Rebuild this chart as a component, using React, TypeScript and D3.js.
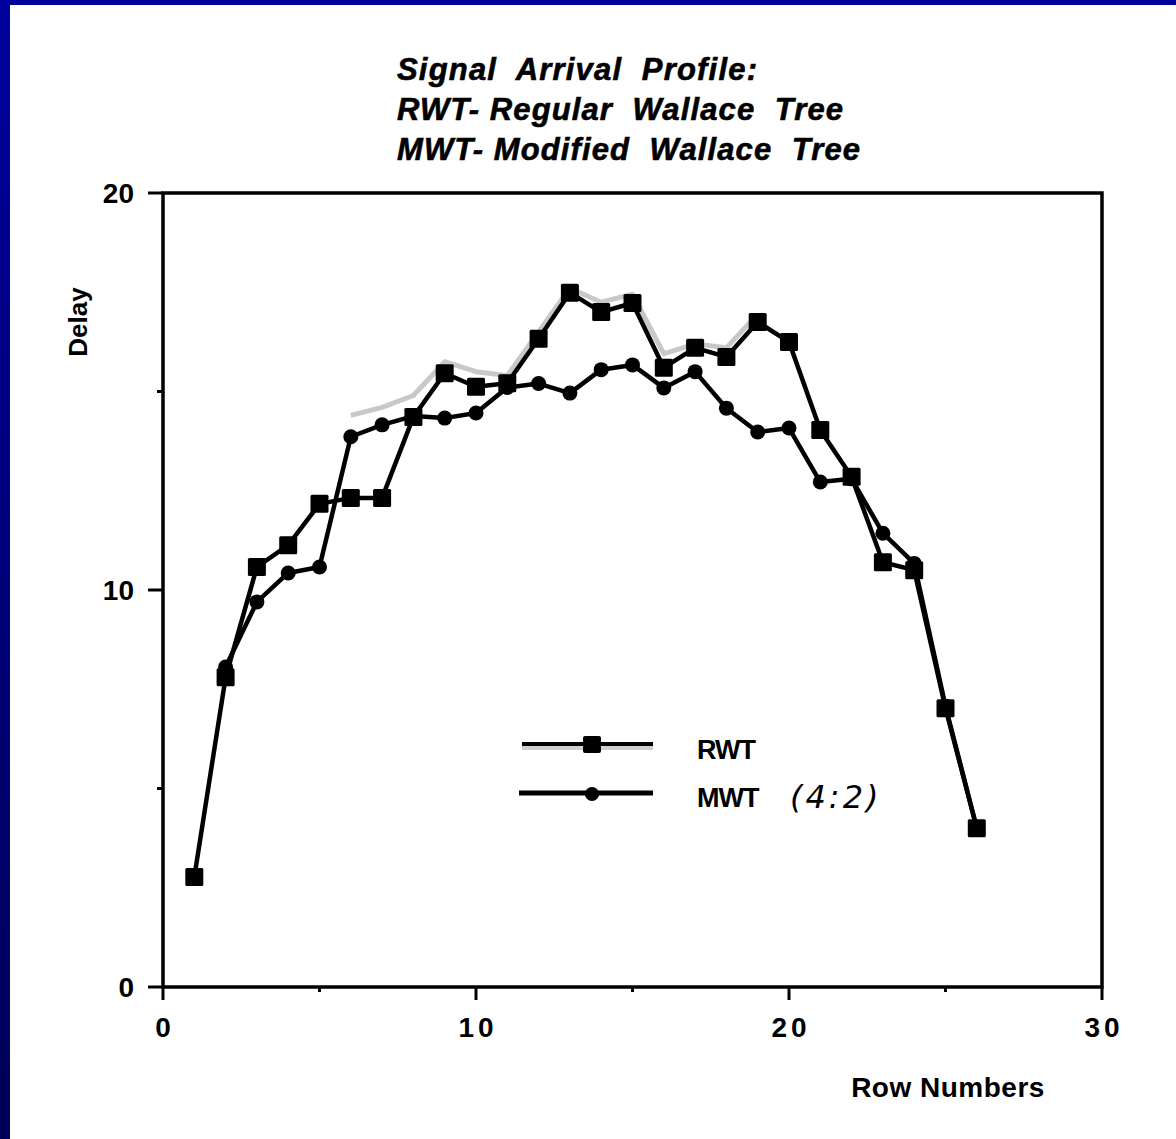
import React, { useEffect, useRef } from 'react';
import * as d3 from 'd3';

// row numbers and delays
const rwtRows = [1, 2, 3, 4, 5, 6, 7, 8, 9, 10, 11, 12, 13, 14, 15, 16, 17, 18, 19, 20, 21, 22, 23, 24, 25, 26];
const rwtDelay = [2.77, 7.8, 10.58, 11.13, 12.17, 12.32, 12.32, 14.36, 15.46, 15.12, 15.21, 16.33, 17.49, 17.0, 17.23, 15.6, 16.1, 15.87, 16.75, 16.25, 14.03, 12.85, 10.7, 10.5, 7.02, 4.0];

const mwtRows = [2, 3, 4, 5, 6, 7, 8, 9, 10, 11, 12, 13, 14, 15, 16, 17, 18, 19, 20, 21, 22, 23, 24, 25, 26];
const mwtDelay = [8.06, 9.7, 10.43, 10.58, 13.86, 14.16, 14.38, 14.33, 14.46, 15.1, 15.2, 14.96, 15.55, 15.67, 15.09, 15.5, 14.58, 13.98, 14.08, 12.72, 12.8, 11.43, 10.67, 7.07, 4.0];

// faint grey trace that shows along the RWT curve in the scan
const shadowRows = [6, 7, 8, 9, 10, 11, 12, 13, 14, 15, 16, 17, 18, 19];
const shadowDelay = [14.4, 14.6, 14.9, 15.75, 15.5, 15.4, 16.5, 17.6, 17.25, 17.45, 15.95, 16.2, 16.1, 16.95];

const titleLines = ['Signal  Arrival  Profile:', 'RWT- Regular  Wallace  Tree', 'MWT- Modified  Wallace  Tree'];
const titleWidths = [360, 446, 463];
const xTicks = [0, 10, 20, 30];
const yTicks = [0, 10, 20];
const xMinor = [5, 15, 25];
const yMinor = [5, 15];

const W = 1176;
const H = 1139;

export default function App() {
  const svgRef = useRef<SVGSVGElement>(null);

  useEffect(() => {
    document.body.style.margin = '0';
    const svg = d3.select(svgRef.current);
    svg.selectAll('*').remove();

    const defs = svg.append('defs');
    const grad = defs.append('linearGradient')
      .attr('id', 'frame')
      .attr('x1', 0).attr('y1', 0).attr('x2', 0).attr('y2', 1);
    grad.append('stop').attr('offset', '0%').attr('stop-color', '#00009c');
    grad.append('stop').attr('offset', '100%').attr('stop-color', '#000058');

    svg.append('rect').attr('width', W).attr('height', H).attr('fill', 'url(#frame)');
    svg.append('rect').attr('x', 10).attr('y', 5).attr('width', W - 10).attr('height', H - 5).attr('fill', '#fff');

    const x = d3.scaleLinear().domain([0, 30]).range([163, 1102]);
    const y = d3.scaleLinear().domain([0, 20]).range([987, 193]);

    // title
    const title = svg.append('g')
      .attr('font-family', '"Liberation Sans", Arial, sans-serif')
      .attr('font-weight', 'bold')
      .attr('font-style', 'italic')
      .attr('font-size', 31)
      .attr('stroke', '#000')
      .attr('stroke-width', 0.6);
    titleLines.forEach((t, i) => {
      title.append('text')
        .attr('x', 397)
        .attr('y', 80 + i * 40)
        .attr('textLength', titleWidths[i])
        .attr('lengthAdjust', 'spacing')
        .attr('xml:space', 'preserve')
        .style('white-space', 'pre')
        .text(t);
    });

    // frame of the plot
    const axes = svg.append('g').attr('stroke', '#000').attr('fill', 'none');
    axes.append('rect')
      .attr('x', x(0)).attr('y', y(20))
      .attr('width', x(30) - x(0)).attr('height', y(0) - y(20))
      .attr('stroke-width', 3.5);

    xTicks.forEach(t => {
      axes.append('line')
        .attr('x1', x(t)).attr('x2', x(t))
        .attr('y1', y(0)).attr('y2', y(0) + 13)
        .attr('stroke-width', 3);
    });
    xMinor.forEach(t => {
      axes.append('line')
        .attr('x1', x(t)).attr('x2', x(t))
        .attr('y1', y(0)).attr('y2', y(0) + 5)
        .attr('stroke-width', 3);
    });
    yTicks.forEach(t => {
      axes.append('line')
        .attr('x1', x(0) - 15).attr('x2', x(0))
        .attr('y1', y(t)).attr('y2', y(t))
        .attr('stroke-width', 3);
    });
    yMinor.forEach(t => {
      axes.append('line')
        .attr('x1', x(0) - 6).attr('x2', x(0))
        .attr('y1', y(t)).attr('y2', y(t))
        .attr('stroke-width', 3);
    });

    const lbl = svg.append('g')
      .attr('font-family', '"Liberation Sans", Arial, sans-serif')
      .attr('font-weight', 'bold')
      .attr('fill', '#000');

    xTicks.forEach(t => {
      lbl.append('text')
        .attr('x', x(t) + 2)
        .attr('y', 1037)
        .attr('text-anchor', 'middle')
        .attr('font-size', 28)
        .attr('letter-spacing', 4)
        .text(String(t));
    });
    yTicks.forEach(t => {
      lbl.append('text')
        .attr('x', 134)
        .attr('y', y(t) + 10)
        .attr('text-anchor', 'end')
        .attr('font-size', 28)
        .text(String(t));
    });

    lbl.append('text')
      .attr('transform', `translate(87, 322) rotate(-90)`)
      .attr('text-anchor', 'middle')
      .attr('font-size', 26)
      .text('Delay');

    lbl.append('text')
      .attr('x', 948)
      .attr('y', 1097)
      .attr('text-anchor', 'middle')
      .attr('font-size', 28)
      .attr('letter-spacing', 0.5)
      .text('Row Numbers');

    const line = d3.line<[number, number]>()
      .x(d => x(d[0]))
      .y(d => y(d[1]));

    const shadow = shadowRows.map((r, i) => [r, shadowDelay[i]] as [number, number]);
    const rwt = rwtRows.map((r, i) => [r, rwtDelay[i]] as [number, number]);
    const mwt = mwtRows.map((r, i) => [r, mwtDelay[i]] as [number, number]);

    svg.append('path')
      .attr('d', line(shadow))
      .attr('fill', 'none')
      .attr('stroke', '#c8c8c8')
      .attr('stroke-width', 5)
      .attr('stroke-linejoin', 'round');

    [mwt, rwt].forEach(s => {
      svg.append('path')
        .attr('d', line(s))
        .attr('fill', 'none')
        .attr('stroke', '#000')
        .attr('stroke-width', 4.5)
        .attr('stroke-linejoin', 'round');
    });

    svg.append('g').selectAll('circle')
      .data(mwt)
      .join('circle')
      .attr('cx', d => x(d[0]))
      .attr('cy', d => y(d[1]))
      .attr('r', 7.5)
      .attr('fill', '#000');

    svg.append('g').selectAll('rect')
      .data(rwt)
      .join('rect')
      .attr('x', d => x(d[0]) - 9)
      .attr('y', d => y(d[1]) - 9)
      .attr('width', 18)
      .attr('height', 18)
      .attr('rx', 1.5)
      .attr('fill', '#000');

    // legend
    const leg = svg.append('g');
    leg.append('line')
      .attr('x1', 522).attr('x2', 653).attr('y1', 748).attr('y2', 748)
      .attr('stroke', '#cfcfcf').attr('stroke-width', 4);
    leg.append('line')
      .attr('x1', 522).attr('x2', 653).attr('y1', 744).attr('y2', 744)
      .attr('stroke', '#000').attr('stroke-width', 4);
    leg.append('rect')
      .attr('x', 583).attr('y', 736).attr('width', 18).attr('height', 17)
      .attr('rx', 2).attr('fill', '#000');
    leg.append('line')
      .attr('x1', 519).attr('x2', 653).attr('y1', 793).attr('y2', 793)
      .attr('stroke', '#000').attr('stroke-width', 5);
    leg.append('circle')
      .attr('cx', 592).attr('cy', 794).attr('r', 7).attr('fill', '#000');

    leg.append('text')
      .attr('x', 697).attr('y', 759)
      .attr('font-family', '"Liberation Sans", Arial, sans-serif')
      .attr('font-weight', 'bold')
      .attr('font-size', 27)
      .attr('letter-spacing', -1)
      .text('RWT');
    leg.append('text')
      .attr('x', 697).attr('y', 807)
      .attr('font-family', '"Liberation Sans", Arial, sans-serif')
      .attr('font-weight', 'bold')
      .attr('font-size', 27)
      .attr('letter-spacing', -1)
      .text('MWT');
    leg.append('text')
      .attr('x', 790).attr('y', 808)
      .attr('font-family', '"DejaVu Sans", sans-serif')
      .attr('font-style', 'italic')
      .attr('font-weight', 'normal')
      .attr('font-size', 32)
      .attr('letter-spacing', 3)
      .text('(4:2)');
  }, []);

  return (
    <svg
      ref={svgRef}
      width={W}
      height={H}
      style={{ display: 'block' }}
    />
  );
}
